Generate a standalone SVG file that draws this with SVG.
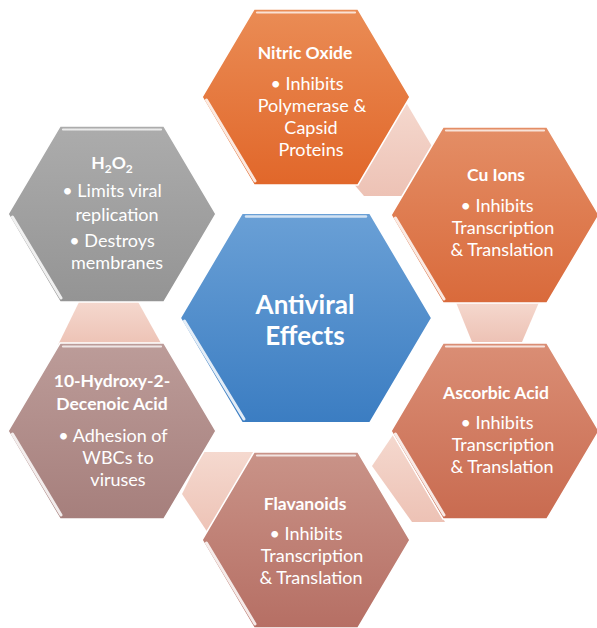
<svg xmlns="http://www.w3.org/2000/svg" xmlns:xlink="http://www.w3.org/1999/xlink" width="597" height="628" viewBox="0 0 597 628">
  <style>
    text { fill: #ffffff; font-family: Lato, "Open Sans", "Liberation Sans", sans-serif; text-anchor: middle; }
    .title { font-size: 17.5px; font-weight: bold; }
    .body { font-size: 18px; }
    .hub { font-size: 26px; font-weight: bold; }
    .bevel { fill: none; stroke: #ffffff; stroke-linecap: round; }
    .link { stroke: none; }
  </style>
  <defs>
    <!-- flat-top hexagons, centred on the origin -->
    <path id="hexSmall" d="M-104,0 L-52,-88 L52,-88 L104,0 L52,88 L-52,88 Z"/>
    <path id="hexBig" d="M-126,0 L-64,-105 L64,-105 L126,0 L64,105 L-64,105 Z"/>
    <g id="bevelSmall">
      <path class="bevel" d="M-49,-84.5 L49,-84.5" stroke-width="2.2" stroke-opacity="0.75"/>
      <path class="bevel" d="M-99.5,3 L-51,84" stroke-width="3" stroke-opacity="0.85"/>
    </g>
    <g id="bevelBig">
      <path class="bevel" d="M-60,-101.5 L60,-101.5" stroke-width="2.4" stroke-opacity="0.7"/>
      <path class="bevel" d="M-121.5,3 L-62,101" stroke-width="3" stroke-opacity="0.85"/>
    </g>
    <linearGradient id="gHub" x1="0" y1="0" x2="0" y2="1">
      <stop offset="0" stop-color="#6aa0d6"/>
      <stop offset="1" stop-color="#3b7dc2"/>
    </linearGradient>
    <linearGradient id="gNitric" x1="0" y1="0" x2="0" y2="1">
      <stop offset="0" stop-color="#ea8c55"/>
      <stop offset="1" stop-color="#e1672a"/>
    </linearGradient>
    <linearGradient id="gCu" x1="0" y1="0" x2="0" y2="1">
      <stop offset="0" stop-color="#e48e66"/>
      <stop offset="1" stop-color="#d96a3b"/>
    </linearGradient>
    <linearGradient id="gAscorbic" x1="0" y1="0" x2="0" y2="1">
      <stop offset="0" stop-color="#da8e75"/>
      <stop offset="1" stop-color="#c96b50"/>
    </linearGradient>
    <linearGradient id="gFlav" x1="0" y1="0" x2="0" y2="1">
      <stop offset="0" stop-color="#c99388"/>
      <stop offset="1" stop-color="#b66f64"/>
    </linearGradient>
    <linearGradient id="gHydroxy" x1="0" y1="0" x2="0" y2="1">
      <stop offset="0" stop-color="#bc9c99"/>
      <stop offset="1" stop-color="#a67f7c"/>
    </linearGradient>
    <linearGradient id="gH2O2" x1="0" y1="0" x2="0" y2="1">
      <stop offset="0" stop-color="#acacac"/>
      <stop offset="1" stop-color="#949494"/>
    </linearGradient>
    <linearGradient id="gLink" x1="0" y1="0" x2="0" y2="1">
      <stop offset="0" stop-color="#f5d9cf"/>
      <stop offset="1" stop-color="#edc2b5"/>
    </linearGradient>
  </defs>

  <rect width="597" height="628" fill="#ffffff"/>

  <!-- pale links between neighbouring hexagons, drawn underneath -->
  <g id="connectors" fill="url(#gLink)">
    <polygon class="link" points="404,99 440,160 418,196 364,196 352,182 380,130"/>
    <polygon class="link" points="455,300 540,300 522,342 472,342"/>
    <polygon class="link" points="395,432 445,522 412,522 372,466"/>
    <polygon class="link" points="203,452 256,452 210,536 182,494"/>
    <polygon class="link" points="80,300 137,300 162,345 58,345"/>
  </g>

  <g id="hub">
    <use xlink:href="#hexBig" x="306" y="318" fill="url(#gHub)" stroke="#ffffff" stroke-width="2"/>
    <use xlink:href="#bevelBig" x="306" y="318"/>
    <text class="hub" x="305" y="314">Antiviral</text>
    <text class="hub" x="305" y="345">Effects</text>
  </g>

  <g id="nitric-oxide">
    <use xlink:href="#hexSmall" x="306" y="97" fill="url(#gNitric)" stroke="#ffffff" stroke-width="1.5"/>
    <use xlink:href="#bevelSmall" x="306" y="97"/>
    <text class="title" x="305" y="59">Nitric Oxide</text>
    <text class="body" x="307" y="90">• Inhibits</text>
    <text class="body" x="312" y="112">Polymerase &amp;</text>
    <text class="body" x="311" y="134">Capsid</text>
    <text class="body" x="311" y="156">Proteins</text>
  </g>

  <g id="cu-ions">
    <use xlink:href="#hexSmall" x="495" y="215" fill="url(#gCu)" stroke="#ffffff" stroke-width="1.5"/>
    <use xlink:href="#bevelSmall" x="495" y="215"/>
    <text class="title" x="496" y="181">Cu Ions</text>
    <text class="body" x="497" y="212">• Inhibits</text>
    <text class="body" x="503" y="234">Transcription</text>
    <text class="body" x="502" y="256">&amp; Translation</text>
  </g>

  <g id="ascorbic-acid">
    <use xlink:href="#hexSmall" x="495" y="431" fill="url(#gAscorbic)" stroke="#ffffff" stroke-width="1.5"/>
    <use xlink:href="#bevelSmall" x="495" y="431"/>
    <text class="title" x="496" y="399">Ascorbic Acid</text>
    <text class="body" x="497" y="429">• Inhibits</text>
    <text class="body" x="503" y="451">Transcription</text>
    <text class="body" x="502" y="473">&amp; Translation</text>
  </g>

  <g id="flavanoids">
    <use xlink:href="#hexSmall" x="306" y="540" fill="url(#gFlav)" stroke="#ffffff" stroke-width="1.5"/>
    <use xlink:href="#bevelSmall" x="306" y="540"/>
    <text class="title" x="305" y="510">Flavanoids</text>
    <text class="body" x="306" y="540">• Inhibits</text>
    <text class="body" x="312" y="562">Transcription</text>
    <text class="body" x="311" y="584">&amp; Translation</text>
  </g>

  <g id="hydroxy-decenoic-acid">
    <use xlink:href="#hexSmall" x="112" y="431" fill="url(#gHydroxy)" stroke="#ffffff" stroke-width="1.5"/>
    <use xlink:href="#bevelSmall" x="112" y="431"/>
    <text class="title" x="112" y="387">10-Hydroxy-2-</text>
    <text class="title" x="112" y="410">Decenoic Acid</text>
    <text class="body" x="113" y="442">• Adhesion of</text>
    <text class="body" x="118" y="464">WBCs to</text>
    <text class="body" x="118" y="486">viruses</text>
  </g>

  <g id="h2o2">
    <use xlink:href="#hexSmall" x="112" y="214" fill="url(#gH2O2)" stroke="#ffffff" stroke-width="1.5"/>
    <use xlink:href="#bevelSmall" x="112" y="214"/>
    <text class="title" x="112" y="169">H<tspan font-size="12" dy="4">2</tspan><tspan dy="-4">O</tspan><tspan font-size="12" dy="4">2</tspan></text>
    <text class="body" x="112" y="197">• Limits viral</text>
    <text class="body" x="117" y="221">replication</text>
    <text class="body" x="112" y="247">• Destroys</text>
    <text class="body" x="117" y="269">membranes</text>
  </g>
</svg>
